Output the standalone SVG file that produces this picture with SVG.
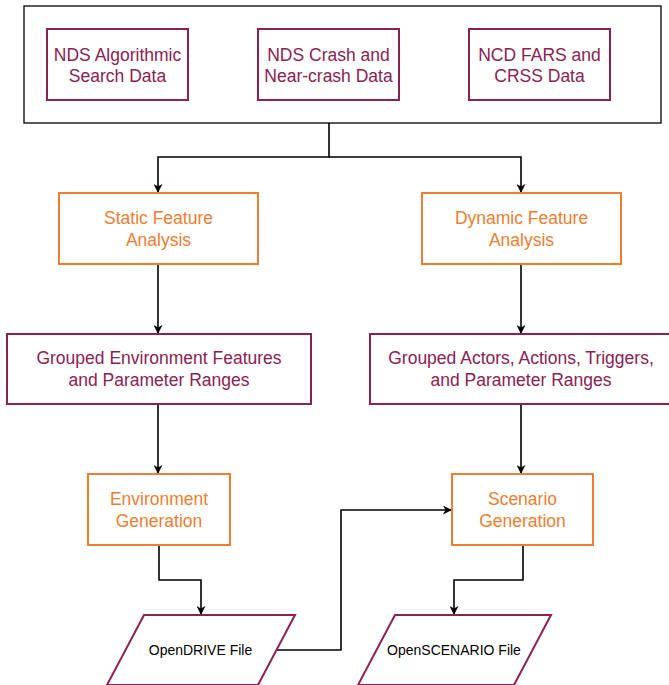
<svg xmlns="http://www.w3.org/2000/svg" width="669" height="685" viewBox="0 0 669 685">
<defs>
<style>
.m{fill:#fff;stroke:#8B2252;stroke-width:2}
.o{fill:#fff;stroke:#ED7D31;stroke-width:2}
.tm{font-family:"Liberation Sans",Arial,sans-serif;font-size:17.5px;fill:#8B2252;text-anchor:middle}
.to{font-family:"Liberation Sans",Arial,sans-serif;font-size:17.5px;fill:#ED7D31;text-anchor:middle}
.tf{font-family:"Liberation Sans",Arial,sans-serif;font-size:14px;fill:#000;text-anchor:middle}
.c{fill:none;stroke:#000;stroke-width:1.6}
</style>
<marker id="a" viewBox="0 0 10 10" refX="9" refY="5" markerWidth="9" markerHeight="9" orient="auto" markerUnits="userSpaceOnUse">
<path d="M0,0 L10,5 L0,10 L3,5 Z" fill="#000"/>
</marker>
</defs>
<rect width="669" height="685" fill="#fff"/>
<g id="connectors">
<path class="c" d="M329,123 V157 H158 V192" marker-end="url(#a)"/>
<path class="c" d="M329,157 H521 V192" marker-end="url(#a)"/>
<path class="c" d="M158,264 V333" marker-end="url(#a)"/>
<path class="c" d="M521,264 V333" marker-end="url(#a)"/>
<path class="c" d="M158,404 V473" marker-end="url(#a)"/>
<path class="c" d="M521,404 V473" marker-end="url(#a)"/>
<path class="c" d="M159,545 V580 H201 V614" marker-end="url(#a)"/>
<path class="c" d="M523,545 V580 H454 V614" marker-end="url(#a)"/>
<path class="c" d="M277,650 H341 V510 H451" marker-end="url(#a)"/>
</g>
<g id="sources">
<rect x="24" y="6" width="637" height="117" fill="#fff" stroke="#000" stroke-width="1.3"/>
</g>
<g id="nds-algorithmic">
<rect class="m" x="47" y="29" width="141" height="71"/>
<text class="tm" x="117.5" y="61">NDS Algorithmic</text>
<text class="tm" x="117.5" y="82">Search Data</text>
</g>
<g id="nds-crash">
<rect class="m" x="258" y="29" width="141" height="71"/>
<text class="tm" x="328.5" y="61">NDS Crash and</text>
<text class="tm" x="328.5" y="82">Near-crash Data</text>
</g>
<g id="ncd-fars">
<rect class="m" x="469" y="29" width="141" height="71"/>
<text class="tm" x="539.5" y="61">NCD FARS and</text>
<text class="tm" x="539.5" y="82">CRSS Data</text>
</g>
<g id="static-feature">
<rect class="o" x="59" y="193" width="199" height="71"/>
<text class="to" x="158.5" y="224">Static Feature</text>
<text class="to" x="158.5" y="246">Analysis</text>
</g>
<g id="dynamic-feature">
<rect class="o" x="422" y="193" width="199" height="71"/>
<text class="to" x="521.5" y="224">Dynamic Feature</text>
<text class="to" x="521.5" y="246">Analysis</text>
</g>
<g id="grouped-env">
<rect class="m" x="7" y="334" width="304" height="70"/>
<text class="tm" x="159" y="364">Grouped Environment Features</text>
<text class="tm" x="159" y="386">and Parameter Ranges</text>
</g>
<g id="grouped-actors">
<rect class="m" x="370" y="334" width="302" height="70"/>
<text class="tm" x="521" y="364">Grouped Actors, Actions, Triggers,</text>
<text class="tm" x="521" y="386">and Parameter Ranges</text>
</g>
<g id="env-gen">
<rect class="o" x="88" y="474" width="142" height="71"/>
<text class="to" x="159" y="505">Environment</text>
<text class="to" x="159" y="527">Generation</text>
</g>
<g id="scen-gen">
<rect class="o" x="452" y="474" width="141" height="71"/>
<text class="to" x="522.5" y="505">Scenario</text>
<text class="to" x="522.5" y="527">Generation</text>
</g>
<g id="opendrive">
<path class="m" d="M144,615 H295 L258,685 H107 Z"/>
<text class="tf" x="200.5" y="655">OpenDRIVE File</text>
</g>
<g id="openscenario">
<path class="m" d="M395,615 H551 L514,685 H358 Z"/>
<text class="tf" x="454" y="655">OpenSCENARIO File</text>
</g>
</svg>
